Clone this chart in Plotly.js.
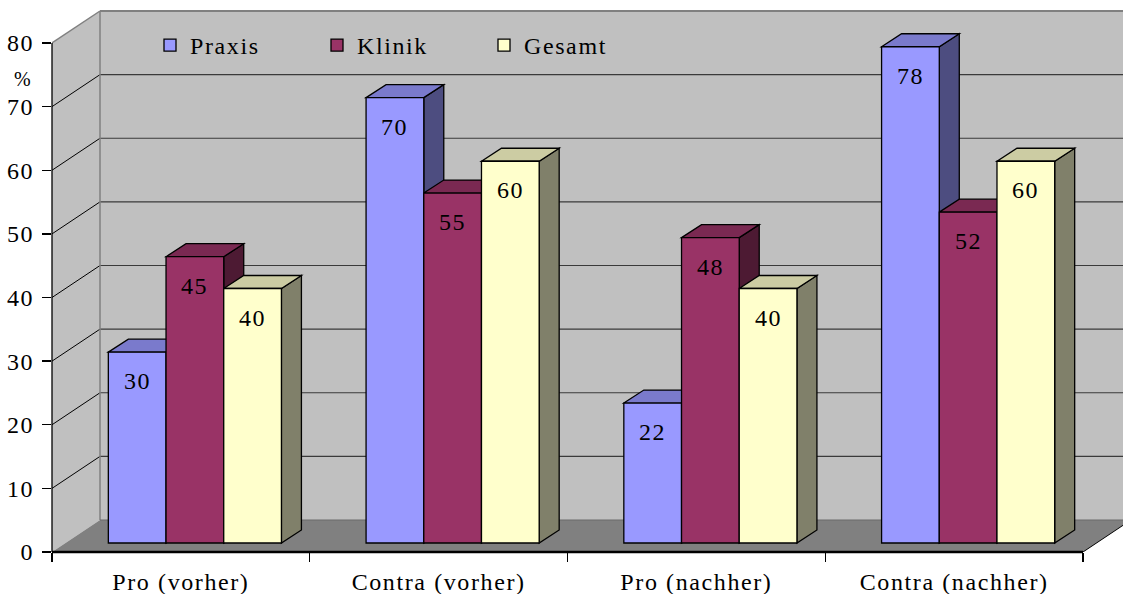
<!DOCTYPE html>
<html><head><meta charset="utf-8">
<script src="https://cdn.plot.ly/plotly-3.0.1.min.js"></script>
<style>html,body{margin:0;padding:0;background:#fff} svg text{letter-spacing:1.6px}</style>
</head><body><div id="chart" style="width:1123px;height:594px"></div>
<script>
// ---- data ----
const categories = ['Pro (vorher)', 'Contra (vorher)', 'Pro (nachher)', 'Contra (nachher)'];
const seriesNames = ['Praxis', 'Klinik', 'Gesamt'];
const praxis = [30, 70, 22, 78];
const klinik = [45, 55, 48, 52];
const gesamt = [40, 60, 40, 60];
const yTickVals = [0, 10, 20, 30, 40, 50, 60, 70, 80];
const yUnitLabel = '%';

// ---- styling / geometry ----
const values = [praxis, klinik, gesamt];
const frontCol = ['#9999FF', '#993366', '#FFFFCC'];
const topCol = ['#7A7ACC', '#7A2952', '#CCCCA3'];
const sideCol = ['#4D4D80', '#4D1A33', '#80806A'];
const FONT = 'Liberation Serif';
const FS = 24;
const W = 1123, H = 594, M = {l: 52, r: 0, t: 10, b: 42};
const PW = W - M.l - M.r, PH = H - M.t - M.b;
const PXY = 509 / 80, PXX = 257.75;
const yMax = PH / PXY, xMax = PW / PXX;
const ux = p => p / PXX, uy = p => p / PXY;
const WDX = ux(48), WDY = uy(32);
const FX = ux(14), FY = uy(9);
const BDX = ux(20), BDY = uy(13);
const BW = ux(57.7);
const nCat = categories.length;
const yTop = yTickVals[yTickVals.length - 1];
const nS = seriesNames.length;

const P = pts => 'M' + pts.map(p => p[0] + ',' + p[1]).join(' L') + ' Z';
const shapes = [];
// back wall, side wall, floor
shapes.push({type: 'path', xref: 'x', yref: 'y', layer: 'below', path: P([[WDX, WDY], [WDX, yTop + WDY], [xMax + 1, yTop + WDY], [xMax + 1, WDY]]), fillcolor: '#C0C0C0', line: {width: 0}});
shapes.push({type: 'path', xref: 'x', yref: 'y', layer: 'below', path: P([[0, 0], [0, yTop], [WDX, yTop + WDY], [WDX, WDY]]), fillcolor: '#C0C0C0', line: {width: 0}});
shapes.push({type: 'path', xref: 'x', yref: 'y', layer: 'below', path: P([[0, 0], [nCat, 0], [nCat + WDX, WDY], [WDX, WDY]]), fillcolor: '#808080', line: {width: 0}});
// gridlines on back and side walls
yTickVals.forEach(v => {
  if (v > 0 && v < yTop) {
    shapes.push({type: 'line', xref: 'x', yref: 'y', layer: 'below', x0: WDX, x1: xMax + 1, y0: v + WDY, y1: v + WDY, line: {color: '#3a3a3a', width: 1.2}});
    shapes.push({type: 'line', xref: 'x', yref: 'y', layer: 'below', x0: 0, x1: WDX, y0: v, y1: v + WDY, line: {color: '#000', width: 1}});
  }
});
// wall / floor edges
shapes.push({type: 'line', xref: 'x', yref: 'y', layer: 'below', x0: WDX, x1: WDX, y0: WDY, y1: yTop + WDY, line: {color: '#808080', width: 1.5}});
shapes.push({type: 'line', xref: 'x', yref: 'y', layer: 'below', x0: WDX, x1: xMax + 1, y0: yTop + WDY, y1: yTop + WDY, line: {color: '#808080', width: 2}});
shapes.push({type: 'line', xref: 'x', yref: 'y', layer: 'below', x0: 0, x1: WDX, y0: yTop, y1: yTop + WDY, line: {color: '#808080', width: 1.5}});
shapes.push({type: 'line', xref: 'x', yref: 'y', layer: 'below', x0: WDX, x1: nCat + WDX, y0: WDY, y1: WDY, line: {color: '#6a6a6a', width: 1}});
shapes.push({type: 'line', xref: 'x', yref: 'y', layer: 'below', x0: nCat, x1: nCat + WDX, y0: 0, y1: WDY, line: {color: '#000', width: 1}});

// bar 3D faces (side, then top) in drawing order
const barX = (i, k) => i + 0.5 + FX + (k - (nS - 1) / 2) * BW;
for (let i = 0; i < nCat; i++) {
  for (let k = 0; k < nS; k++) {
    const v = values[k][i];
    const xc = barX(i, k), xl = xc - BW / 2, xr = xc + BW / 2, top = FY + v;
    shapes.push({type: 'path', xref: 'x', yref: 'y', layer: 'below', path: P([[xr, FY], [xr, top], [xr + BDX, top + BDY], [xr + BDX, FY + BDY]]), fillcolor: sideCol[k], line: {color: '#000', width: 1.3}});
    shapes.push({type: 'path', xref: 'x', yref: 'y', layer: 'below', path: P([[xl, top], [xl + BDX, top + BDY], [xr + BDX, top + BDY], [xr, top]]), fillcolor: topCol[k], line: {color: '#000', width: 1.3}});
  }
}
// axis lines
shapes.push({type: 'line', xref: 'paper', yref: 'y', layer: 'above', x0: 0, x1: 0, y0: 0, y1: yTop, line: {color: '#000', width: 1.3}});
shapes.push({type: 'line', xref: 'x', yref: 'paper', layer: 'above', x0: 0, x1: nCat, y0: 0, y1: 0, line: {color: '#000', width: 2.5}});

const traces = seriesNames.map((name, k) => ({
  type: 'bar', name: name,
  x: categories.map((c, i) => barX(i, k)),
  y: values[k],
  base: values[k].map(() => FY),
  width: BW,
  marker: {color: frontCol[k], line: {color: '#000', width: 1.3}},
  hoverinfo: 'skip'
}));

const annotations = [];
values.forEach((arr, k) => arr.forEach((v, i) => {
  annotations.push({x: barX(i, k), y: FY + v, xref: 'x', yref: 'y', text: String(v), showarrow: false, yanchor: 'middle', yshift: -29, font: {family: FONT, size: FS, color: '#000'}});
}));
annotations.push({xref: 'paper', yref: 'y', x: (23 - M.l) / PW, y: (552 - 79) / PXY, text: yUnitLabel, showarrow: false, xanchor: 'center', yanchor: 'middle', font: {family: FONT, size: 20, color: '#000'}});

const layout = {
  width: W, height: H, margin: M,
  paper_bgcolor: '#fff', plot_bgcolor: 'rgba(0,0,0,0)',
  barmode: 'overlay',
  font: {family: FONT, size: FS, color: '#000'},
  xaxis: {range: [0, xMax], tickmode: 'array', tickvals: categories.map((c, i) => i + 0.5), ticktext: categories,
    ticks: '', showgrid: false, zeroline: false, showline: false, ticklabelstandoff: 13, fixedrange: true,
    tickfont: {family: FONT, size: FS, color: '#000'},
    minor: {tickmode: 'array', tickvals: categories.map((c, i) => i).concat([nCat]), ticks: 'outside', ticklen: 9, tickwidth: 1.3, tickcolor: '#000', showgrid: false}},
  yaxis: {range: [0, yMax], tickmode: 'array', tickvals: yTickVals, ticks: 'outside', ticklen: 9, tickwidth: 1.3, tickcolor: '#000',
    tickfont: {family: FONT, size: FS, color: '#000'},
    showgrid: false, zeroline: false, showline: false, ticklabelstandoff: 3, fixedrange: true},
  showlegend: true,
  legend: {orientation: 'h', x: (150 - M.l) / PW, xanchor: 'left', y: (552 - 45.5) / PH, yanchor: 'middle',
    bgcolor: 'rgba(0,0,0,0)', borderwidth: 0, entrywidth: 122, entrywidthmode: 'pixels', font: {family: FONT, size: FS, color: '#000'}, traceorder: 'normal'},
  shapes: shapes, annotations: annotations
};
Plotly.newPlot('chart', traces, layout, {displayModeBar: false, staticPlot: true});
</script></body></html>
